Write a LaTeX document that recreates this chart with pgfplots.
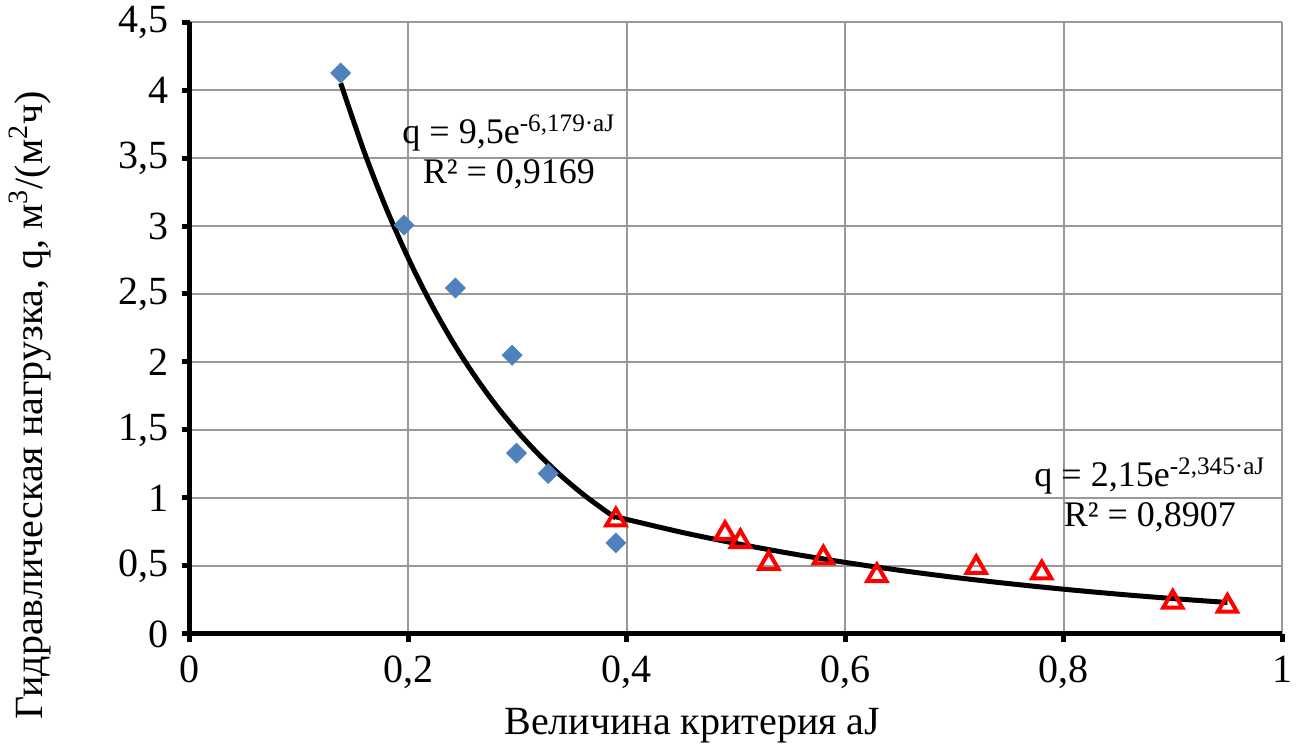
\documentclass[border=0pt]{standalone}
\usepackage{pgfplots}
\pgfplotsset{compat=1.18}
\usepackage{fontspec}
\setmainfont{Liberation Serif}
\definecolor{dblue}{HTML}{4F81BD}
\begin{document}
\fontsize{20}{24}\selectfont
\begin{tikzpicture}
\begin{axis}[
 scale only axis, width=546pt, height=306pt,
 xmin=0, xmax=1, ymin=0, ymax=4.5,
 xtick={0,0.2,0.4,0.6,0.8,1}, ytick={0,0.5,1,1.5,2,2.5,3,3.5,4,4.5},
 axis x line*=bottom, axis y line*=left,
 axis line style={line width=2.5pt, black},
 grid=major, major grid style={gray!80, line width=1pt},
 tick align=outside, major tick length=4pt,
 tick style={line width=2.5pt, black},
 /pgf/number format/use comma,
 /pgf/number format/assume math mode=true,
 ticklabel style={font=\fontsize{20}{24}\selectfont},
 xlabel={Величина критерия aJ},
 ylabel={Гидравлическая нагрузка, q, м\textsuperscript{3}/(м\textsuperscript{2}ч)},
 xlabel style={at={(axis description cs:0.46,-0.149)}, anchor=center, font=\fontsize{20}{24}\selectfont},
 ylabel style={at={(axis description cs:-0.1465,0.374)}, anchor=center, font=\fontsize{20}{24}\selectfont},
]
\coordinate (O) at (rel axis cs:0,0);
\addplot[only marks, mark=square*, mark size=3.5pt, mark options={rotate=45, fill=dblue, draw=dblue}] coordinates {
(0.138,4.125) (0.196,3.007) (0.243,2.544) (0.295,2.05) (0.299,1.33) (0.328,1.18) (0.390,0.67)};
\addplot[only marks, mark=triangle, mark size=5.5pt, mark options={draw=red, fill=white, line width=2pt}] coordinates {
(0.39,0.84) (0.49,0.74) (0.504,0.68) (0.53,0.52) (0.58,0.56) (0.629,0.43) (0.72,0.49) (0.78,0.45) (0.90,0.235) (0.95,0.205)};
\addplot[smooth, black, line width=2.5pt] coordinates {
(0.138,4.050) (0.16,3.535) (0.18,3.124) (0.20,2.761) (0.22,2.440) (0.24,2.156) (0.26,1.906) (0.28,1.684) (0.30,1.488) (0.32,1.315) (0.34,1.162) (0.36,1.027) (0.38,0.908) (0.39,0.853)};
\addplot[smooth, black, line width=2.5pt] coordinates {
(0.39,0.8615) (0.45,0.7484) (0.50,0.6657) (0.55,0.5920) (0.60,0.5265) (0.65,0.4683) (0.70,0.4164) (0.75,0.3704) (0.80,0.3294) (0.85,0.2929) (0.90,0.2605) (0.95,0.2317)};
\node[align=center, font=\fontsize{18}{20}\selectfont] at (axis cs:0.292,3.544) {q = 9,5e\textsuperscript{-6,179·aJ}\\R² = 0,9169};
\node[align=center, font=\fontsize{18}{20}\selectfont] at (axis cs:0.879,1.022) {q = 2,15e\textsuperscript{-2,345·aJ}\\R² = 0,8907};
\end{axis}
\pgfresetboundingbox
\path (O) ++(-95pt,-55pt) rectangle ++(649pt,372pt);
\end{tikzpicture}
\end{document}
